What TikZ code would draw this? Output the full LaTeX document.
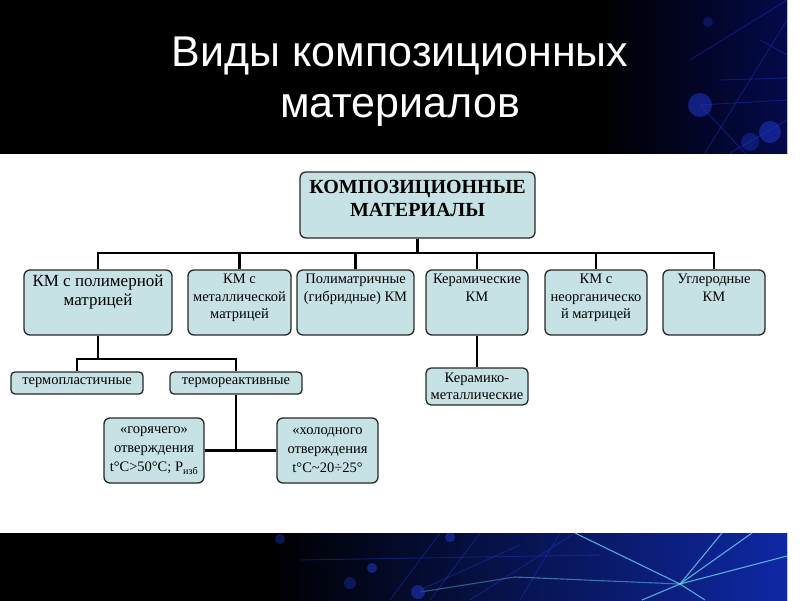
\documentclass[tikz,border=0pt]{standalone}
\usepackage{fontspec}
\setmainfont{Liberation Serif}
\newfontfamily\titlefont{Liberation Sans}
\usetikzlibrary{calc}
\definecolor{boxfill}{RGB}{198,226,228}
\definecolor{boxline}{RGB}{40,40,40}
\definecolor{netblue}{RGB}{30,55,200}
\definecolor{netcyan}{RGB}{100,210,245}
\definecolor{navy}{RGB}{4,10,75}
\definecolor{deepblue}{RGB}{15,40,165}
\begin{document}
\begin{tikzpicture}[x=1pt,y=-1pt,
 box/.style={draw=boxline, line width=1.3pt, fill=boxfill, rounded corners=6pt, inner sep=0pt, align=center, font=\fontsize{14.5}{17.5}\selectfont},
 txt/.style={align=center, font=\fontsize{14.5}{17.5}\selectfont, text=black, inner sep=0pt, anchor=north},
 conn/.style={line width=2.6pt, black},
 ttl/.style={text=white, font=\titlefont\fontsize{43}{50}\selectfont, anchor=base, inner sep=0pt},
 netline/.style={line width=0.9pt, netblue, opacity=0.45},
 brightline/.style={line width=1.1pt, netcyan, opacity=0.8},
 blob/.style={fill=netblue, opacity=0.55}]

\useasboundingbox (0,0) rectangle (800,600);
\fill[white] (0,0) rectangle (800,600);

% top band
\begin{scope}
\clip (0,0) rectangle (787,153);
\fill[black] (-5,-5) rectangle (800,160);
\shade[left color=black, right color=navy] (600,-5) rectangle (790,160);
\draw[netline] (705,153) -- (787,20);
\draw[netline] (690,60) -- (787,0);
\draw[netline] (700,105) -- (787,100);
\draw[netline] (720,80) -- (787,78);
\draw[netline] (700,105) -- (745,153);
\draw[netline] (730,153) -- (787,120);
\draw[netline] (760,40) -- (787,55);
\fill[blob] (700,105) circle (12);
\fill[blob] (770,132) circle (11);
\fill[blob, opacity=0.4] (750,142) circle (9);
\fill[blob, opacity=0.3] (708,22) circle (5);
\end{scope}

% bottom band
\begin{scope}
\clip (0,533) rectangle (787,600);
\fill[black] (-5,525) rectangle (800,605);
\shade[left color=black, right color=deepblue] (270,525) rectangle (790,605);
\draw[netline] (390,600) -- (440,533);
\draw[netline] (430,600) -- (480,533);
\draw[netline] (520,600) -- (560,533);
\draw[netline] (300,560) -- (600,555);
\draw[netline] (420,590) -- (520,545);
\draw[netline] (470,600) -- (575,533);
\draw[brightline] (680,584) -- (575,533);
\draw[brightline] (680,584) -- (787,556);
\draw[brightline] (680,584) -- (642,600);
\draw[brightline] (680,584) -- (722,533);
\draw[brightline] (680,584) -- (752,533);
\draw[brightline] (680,584) -- (705,600);
\draw[brightline, opacity=0.5] (515,577) -- (680,584);
\draw[brightline, opacity=0.4] (420,592) -- (515,577);
\fill[blob, opacity=0.4] (280,539) circle (5);
\fill[blob] (372,568) circle (5);
\fill[blob] (418,592) circle (7);
\fill[blob] (450,537) circle (5);
\fill[blob, opacity=0.35] (350,583) circle (6);
\end{scope}

% title
\node[ttl] (title1) at (400,66) {Виды композиционных};
\node[ttl] (title2) at (400,117) {материалов};

% level 1
\node[box, minimum width=235pt, minimum height=66pt] (top) at (417.5,205) {};
\node[txt, font=\bfseries\fontsize{20}{23.5}\selectfont] (topt) at (417.5,180) {КОМПОЗИЦИОННЫЕ\\МАТЕРИАЛЫ};

% level 2
\node[box, minimum width=148pt, minimum height=65pt] (b1) at (98,302.5) {};
\node[box, minimum width=103pt, minimum height=65pt] (b2) at (239.5,302.5) {};
\node[box, minimum width=117pt, minimum height=65pt] (b3) at (355.5,302.5) {};
\node[box, minimum width=102pt, minimum height=65pt] (b4) at (477,302.5) {};
\node[box, minimum width=102pt, minimum height=65pt] (b5) at (596,302.5) {};
\node[box, minimum width=102pt, minimum height=65pt] (b6) at (714,302.5) {};
\node[txt, font=\fontsize{17}{19}\selectfont] (b1t) at (98,275) {КМ с полимерной\\матрицей};
\node[txt] (b2t) at (239.5,274) {КМ с\\металлической\\матрицей};
\node[txt] (b3t) at (355.5,274) {Полиматричные\\(гибридные) КМ};
\node[txt] (b4t) at (477,274) {Керамические\\КМ};
\node[txt] (b5t) at (596,274) {КМ с\\неорганическо\\й матрицей};
\node[txt] (b6t) at (714,274) {Углеродные\\КМ};

% level 3
\node[box, rounded corners=4pt, minimum width=132pt, minimum height=22pt] (tp) at (77,383) {термопластичные};
\node[box, rounded corners=4pt, minimum width=132pt, minimum height=22pt] (tr) at (236,383) {термореактивные};
\node[box, rounded corners=5pt, minimum width=102pt, minimum height=37pt] (km) at (477,386.5) {Керамико-\\металлические};

% level 4
\node[box, minimum width=100pt, minimum height=65pt, font=\fontsize{14.5}{19}\selectfont] (hot) at (154,450.5) {«горячего»\\отверждения\\t°C>50°C; P\textsubscript{изб}};
\node[box, minimum width=101pt, minimum height=65pt, font=\fontsize{14.5}{19}\selectfont] (cold) at (327.5,450.5) {«холодного\\отверждения\\t°C\textasciitilde 20÷25°};

% connectors
\coordinate (bar) at (0,253);
\coordinate (s1) at (0,359);
\draw[conn] (top.south) -- (top.south |- bar);
\draw[conn] (b1.north) -- (b1.north |- bar) -- (b6.north |- bar) -- (b6.north);
\foreach \n in {b2,b3,b4,b5} \draw[conn] (\n.north |- bar) -- (\n.north);
\draw[conn] (b1.south) -- (b1.south |- s1);
\draw[conn] (tp.north) -- (tp.north |- s1) -- (tr.north |- s1) -- (tr.north);
\draw[conn] (tr.south) -- (tr.south |- hot.east);
\draw[conn] (hot.east) -- (cold.west);
\draw[conn, line width=2.2pt] (b4.south) -- (km.north);
\end{tikzpicture}
\end{document}
